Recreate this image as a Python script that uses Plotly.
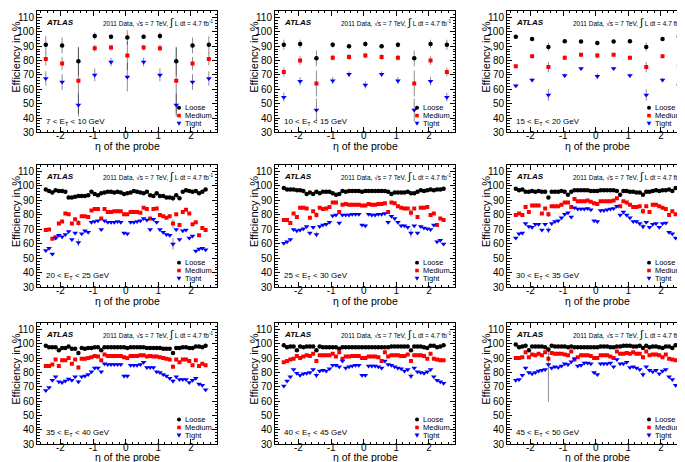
import plotly.graph_objects as go

W, H = 685, 462

# ---------------- data ----------------
ETA_COARSE = [-2.45, -1.95, -1.45, -0.95, -0.45, 0.05, 0.55, 1.05, 1.55, 2.05, 2.55]
ETA_FINE = [-2.45, -2.35, -2.25, -2.15, -2.05, -1.95, -1.85, -1.75, -1.65, -1.55,
            -1.45, -1.35, -1.25, -1.15, -1.05, -0.95, -0.85, -0.75, -0.65, -0.55,
            -0.45, -0.35, -0.25, -0.15, -0.05, 0.05, 0.15, 0.25, 0.35, 0.45,
            0.55, 0.65, 0.75, 0.85, 0.95, 1.05, 1.15, 1.25, 1.35, 1.45,
            1.55, 1.65, 1.75, 1.85, 1.95, 2.05, 2.15, 2.25, 2.35, 2.45]

ET_LABELS = ["7 < E<sub>T</sub> < 10 GeV", "10 < E<sub>T</sub> < 15 GeV", "15 < E<sub>T</sub> < 20 GeV",
             "20 < E<sub>T</sub> < 25 GeV", "25 < E<sub>T</sub> < 30 GeV", "30 < E<sub>T</sub> < 35 GeV",
             "35 < E<sub>T</sub> < 40 GeV", "40 < E<sub>T</sub> < 45 GeV", "45 < E<sub>T</sub> < 50 GeV"]
SERIES_NAMES = ["Loose", "Medium", "Tight"]
X_TICKS = [-2, -1, 0, 1, 2]
X_TICK_TEXT = ["-2", "-1", "0", "1", "2"]
Y_TICKS = [30, 40, 50, 60, 70, 80, 90, 100, 110]

# panel 1: 7-10 GeV
LOOSE_1 = [91.0, 90.5, 79.5, 97.0, 96.5, 96.0, 96.5, 97.0, 79.5, 90.5, 91.0]
MEDIUM_1 = [81.0, 78.0, 66.0, 88.5, 89.0, 83.5, 89.0, 88.5, 66.0, 78.0, 81.0]
TIGHT_1 = [67.5, 65.0, 49.0, 70.0, 79.0, 68.5, 79.0, 70.0, 49.0, 65.0, 67.5]
ERR_LOOSE_1 = [6.0, 5.5, 10.0, 2.5, 1.5, 5.0, 1.5, 2.5, 10.0, 5.5, 6.0]
ERR_MEDIUM_1 = [4.5, 4.5, 23.0, 2.5, 2.0, 10.0, 2.0, 2.5, 23.0, 4.5, 4.5]
ERR_TIGHT_1 = [5.0, 5.5, 8.0, 4.5, 3.0, 10.0, 3.0, 4.5, 8.0, 5.5, 5.0]

# panel 2: 10-15 GeV
LOOSE_2 = [91.0, 91.5, 81.5, 91.0, 90.0, 91.5, 90.0, 91.0, 81.5, 91.5, 91.0]
MEDIUM_2 = [72.0, 80.0, 64.0, 82.0, 82.5, 83.5, 82.5, 82.0, 64.0, 80.0, 72.0]
TIGHT_2 = [54.5, 65.5, 45.5, 66.0, 70.5, 63.0, 70.5, 66.0, 45.5, 65.5, 54.5]
ERR_LOOSE_2 = [3.5, 3.0, 5.5, 2.0, 1.5, 2.0, 1.5, 2.0, 5.5, 3.0, 3.5]
ERR_MEDIUM_2 = [3.0, 3.0, 9.0, 2.0, 2.0, 2.0, 2.0, 2.0, 9.0, 3.0, 3.0]
ERR_TIGHT_2 = [3.0, 3.0, 8.0, 2.5, 2.0, 2.5, 2.0, 2.5, 8.0, 3.0, 3.0]

# panel 3: 15-20 GeV
LOOSE_3 = [96.5, 95.0, 89.5, 93.5, 93.3, 92.2, 93.3, 93.5, 89.5, 95.0, 96.5]
MEDIUM_3 = [76.0, 83.0, 75.5, 82.0, 84.0, 83.5, 84.0, 82.0, 75.5, 83.0, 76.0]
TIGHT_3 = [62.5, 66.5, 56.0, 69.5, 74.5, 69.0, 74.5, 69.5, 56.0, 66.5, 62.5]
ERR_LOOSE_3 = [1.0, 1.0, 3.0, 1.0, 1.0, 1.5, 1.0, 1.0, 3.0, 1.0, 1.0]
ERR_MEDIUM_3 = [1.0, 1.0, 3.5, 1.5, 1.0, 2.0, 1.0, 1.5, 3.5, 1.0, 1.0]
ERR_TIGHT_3 = [1.0, 1.5, 4.0, 1.5, 1.0, 2.0, 1.0, 1.5, 4.0, 1.5, 1.0]

# panel 4: 20-25 GeV
LOOSE_4 = [97.5, 96.5, 95.5, 97.0, 96.5, 96.5, 96.0, 92.0, 92.0, 92.5,
           93.0, 93.0, 93.0, 93.5, 96.0, 94.5, 93.5, 95.0, 95.5, 96.0,
           96.0, 95.5, 96.0, 95.5, 94.5, 95.0, 95.5, 96.5, 96.0, 95.5,
           95.0, 96.0, 93.5, 93.0, 95.0, 93.0, 93.0, 92.0, 92.0, 91.5,
           93.5, 91.5, 96.0, 97.0, 96.5, 96.0, 96.5, 95.0, 96.0, 97.5]
MEDIUM_4 = [69.5, 70.0, 63.5, 64.5, 74.0, 75.5, 81.0, 80.5, 74.0, 77.0,
            74.5, 79.0, 79.0, 78.5, 83.0, 84.0, 84.0, 77.5, 84.0, 82.0,
            82.0, 82.5, 82.5, 82.5, 80.5, 80.5, 82.0, 82.0, 82.0, 81.5,
            85.0, 84.0, 77.5, 84.0, 84.5, 80.0, 79.0, 78.0, 79.0, 74.0,
            80.5, 73.0, 82.0, 83.5, 81.0, 73.5, 75.0, 66.0, 71.0, 69.5]
TIGHT_4 = [55.5, 57.0, 53.0, 64.0, 66.0, 65.0, 66.5, 68.5, 63.0, 67.5,
           61.0, 67.0, 69.0, 68.0, 75.0, 75.5, 76.0, 70.0, 76.0, 75.0,
           75.0, 75.0, 75.5, 75.0, 67.5, 67.0, 75.0, 75.0, 75.5, 76.0,
           77.5, 76.5, 70.0, 77.0, 75.0, 70.0, 68.0, 66.5, 66.0, 60.0,
           70.0, 63.0, 69.0, 69.5, 64.0, 65.5, 55.0, 56.5, 57.0, 56.0]

# panel 5: 25-30 GeV
LOOSE_5 = [98.5, 97.5, 97.5, 97.5, 97.0, 97.0, 96.5, 94.5, 95.5, 94.5,
           96.0, 95.0, 96.0, 96.0, 96.0, 95.0, 94.0, 94.5, 96.5, 96.0,
           96.5, 96.5, 96.5, 96.5, 96.0, 96.5, 96.5, 96.5, 96.5, 96.5,
           96.5, 96.5, 96.0, 94.5, 95.5, 95.5, 95.5, 95.5, 96.0, 95.0,
           95.0, 96.0, 97.0, 96.5, 97.0, 97.5, 97.0, 97.5, 97.5, 98.0]
MEDIUM_5 = [76.5, 76.5, 74.5, 81.0, 78.5, 85.0, 85.0, 84.5, 78.0, 82.5,
            80.0, 85.0, 84.0, 84.5, 85.5, 88.5, 88.5, 82.0, 87.0, 87.5,
            87.0, 87.0, 87.0, 87.0, 86.5, 86.5, 87.5, 87.0, 87.0, 87.5,
            87.5, 88.0, 82.0, 88.5, 88.0, 86.0, 85.0, 84.5, 84.5, 81.5,
            84.5, 78.5, 85.0, 85.0, 85.5, 80.0, 81.0, 73.0, 77.5, 76.5]
TIGHT_5 = [60.5, 61.5, 63.0, 70.0, 69.0, 69.5, 70.5, 72.0, 67.5, 71.5,
           66.5, 72.0, 73.0, 73.5, 75.0, 79.5, 80.0, 74.5, 80.0, 80.0,
           80.0, 80.5, 80.5, 80.5, 73.0, 72.5, 80.5, 80.0, 80.0, 80.5,
           80.5, 81.0, 75.0, 79.0, 77.5, 75.0, 72.5, 72.5, 71.5, 67.5,
           72.5, 67.5, 72.0, 71.0, 70.5, 70.0, 73.0, 61.5, 62.5, 60.0]

# panel 6: 30-35 GeV
LOOSE_6 = [98.0, 97.0, 97.5, 96.0, 96.0, 96.5, 96.0, 96.5, 96.0, 96.0,
           92.0, 96.0, 96.0, 96.0, 96.5, 96.0, 94.0, 96.0, 97.0, 97.0,
           97.0, 97.0, 97.0, 96.5, 96.5, 96.5, 97.0, 97.0, 97.0, 97.0,
           97.0, 96.5, 94.0, 96.5, 96.5, 96.0, 96.0, 95.5, 95.5, 94.0,
           96.0, 96.0, 96.5, 97.0, 96.5, 97.0, 97.0, 97.5, 96.5, 98.5]
MEDIUM_6 = [80.0, 81.0, 80.0, 85.5, 82.0, 86.5, 86.5, 86.5, 81.0, 84.5,
            80.5, 86.0, 86.0, 86.0, 87.0, 88.5, 88.5, 85.5, 91.0, 89.5,
            89.5, 89.5, 90.0, 89.0, 88.0, 87.5, 89.5, 89.5, 89.5, 89.5,
            90.0, 91.5, 86.0, 89.5, 88.5, 87.0, 85.5, 85.5, 86.0, 82.5,
            86.0, 82.0, 87.0, 87.0, 86.0, 85.0, 84.0, 80.0, 82.5, 80.5]
TIGHT_6 = [64.0, 67.0, 67.5, 74.0, 72.0, 71.5, 73.5, 73.5, 69.5, 73.5,
           69.5, 74.0, 75.5, 76.0, 78.0, 80.5, 81.5, 78.5, 85.0, 84.0,
           84.0, 84.0, 84.5, 83.5, 76.0, 75.5, 83.0, 83.0, 83.5, 84.0,
           84.5, 86.0, 80.0, 82.0, 80.0, 78.0, 75.5, 75.5, 74.0, 72.0,
           75.0, 71.5, 73.5, 74.0, 71.5, 74.0, 74.5, 68.0, 67.0, 64.0]

# panel 7: 35-40 GeV
LOOSE_7 = [98.5, 97.5, 97.5, 97.5, 95.5, 97.0, 97.0, 98.0, 96.5, 96.5,
           93.5, 97.0, 96.5, 97.0, 97.0, 97.5, 97.5, 95.5, 97.5, 97.5,
           97.5, 97.5, 97.5, 97.5, 97.5, 97.0, 97.5, 97.5, 97.5, 97.5,
           97.5, 97.0, 97.0, 97.0, 97.0, 97.0, 96.5, 96.5, 96.5, 93.5,
           97.0, 97.0, 97.5, 97.5, 97.0, 97.0, 98.0, 98.0, 97.5, 98.5]
MEDIUM_7 = [84.5, 84.5, 85.5, 89.0, 84.5, 88.5, 88.5, 90.0, 86.0, 89.0,
            83.5, 89.5, 89.5, 90.0, 90.5, 91.5, 91.0, 88.5, 92.5, 91.5,
            91.5, 91.5, 91.5, 91.5, 90.5, 90.0, 91.5, 91.5, 91.5, 92.0,
            92.0, 91.0, 91.5, 91.0, 91.0, 90.5, 90.0, 89.5, 89.0, 84.0,
            89.0, 87.0, 89.0, 89.0, 88.0, 85.0, 88.5, 84.5, 86.0, 85.0]
TIGHT_7 = [67.5, 69.5, 74.5, 77.0, 73.5, 73.0, 74.0, 75.5, 74.5, 77.0,
           73.5, 77.0, 77.5, 78.5, 80.5, 83.0, 83.0, 80.5, 86.0, 85.5,
           85.5, 85.5, 85.5, 85.5, 77.5, 77.5, 85.0, 85.0, 85.0, 85.5,
           87.0, 83.5, 83.5, 83.5, 80.5, 80.0, 78.5, 77.5, 76.0, 74.0,
           77.0, 75.0, 75.0, 75.0, 73.0, 74.5, 76.0, 72.0, 71.0, 68.0]

# panel 8: 40-45 GeV
LOOSE_8 = [99.0, 97.5, 98.0, 98.0, 95.5, 98.0, 97.5, 98.0, 98.0, 98.0,
           95.5, 98.0, 97.5, 97.5, 97.5, 97.5, 97.5, 96.5, 97.5, 97.5,
           97.5, 97.5, 97.5, 97.5, 97.5, 97.5, 97.5, 97.5, 97.5, 97.5,
           97.5, 97.5, 97.5, 98.0, 98.0, 98.0, 98.0, 98.0, 98.0, 95.5,
           98.0, 98.0, 98.0, 97.5, 97.0, 98.5, 98.5, 97.5, 98.0, 99.0]
MEDIUM_8 = [87.0, 88.0, 89.0, 89.5, 91.5, 90.0, 91.0, 92.0, 91.5, 93.0,
            88.0, 92.0, 92.0, 92.0, 92.0, 93.0, 91.0, 94.0, 89.5, 91.0,
            91.0, 91.5, 91.5, 91.5, 90.0, 90.0, 91.0, 91.0, 91.0, 90.5,
            88.0, 94.0, 91.0, 92.0, 92.0, 92.0, 91.5, 91.5, 92.5, 88.0,
            92.0, 92.0, 92.0, 91.5, 89.5, 93.0, 89.5, 89.0, 88.5, 88.5]
TIGHT_8 = [70.5, 74.0, 77.0, 82.0, 79.5, 78.0, 79.0, 79.5, 80.0, 82.0,
           78.0, 81.0, 81.5, 81.0, 82.5, 85.0, 85.0, 84.0, 88.0, 83.0,
           84.0, 84.5, 85.0, 85.0, 78.0, 78.0, 84.5, 84.5, 84.5, 84.0,
           83.0, 88.0, 85.5, 85.0, 84.0, 83.0, 82.5, 81.0, 82.0, 77.5,
           83.0, 80.5, 80.0, 79.5, 80.5, 82.0, 77.0, 74.5, 73.5, 72.5]

# panel 9: 45-50 GeV
LOOSE_9 = [99.5, 97.5, 98.0, 98.5, 95.5, 98.0, 98.0, 98.0, 98.0, 97.5,
           96.0, 98.5, 98.0, 98.0, 98.0, 98.0, 97.5, 98.0, 97.5, 97.5,
           97.5, 97.5, 97.5, 97.5, 97.5, 97.5, 98.0, 98.0, 98.0, 97.5,
           97.5, 98.0, 98.0, 98.5, 98.5, 98.5, 98.0, 98.0, 98.5, 97.0,
           98.5, 97.5, 98.0, 98.0, 97.5, 97.0, 98.0, 98.0, 97.0, 99.0]
MEDIUM_9 = [90.0, 90.0, 90.5, 94.0, 90.5, 92.5, 92.0, 93.0, 92.0, 94.0,
            89.5, 93.5, 93.0, 93.0, 93.0, 92.5, 92.0, 94.5, 89.0, 90.5,
            92.0, 92.0, 92.0, 91.5, 90.0, 90.0, 92.0, 92.0, 92.0, 91.0,
            90.0, 94.5, 93.0, 93.0, 93.5, 93.0, 94.0, 93.0, 93.0, 90.5,
            94.5, 92.0, 92.5, 92.5, 92.0, 90.5, 92.5, 89.5, 89.0, 88.5]
TIGHT_9 = [74.5, 75.0, 78.0, 83.0, 80.0, 79.0, 80.0, 81.0, 81.5, 82.0,
           85.5, 83.0, 84.0, 83.5, 84.5, 86.0, 85.5, 87.5, 89.5, 84.5,
           85.0, 86.5, 86.5, 86.0, 80.0, 78.5, 86.0, 86.0, 86.0, 86.5,
           84.0, 89.0, 86.0, 86.0, 87.0, 83.5, 84.0, 83.0, 82.0, 78.5,
           84.0, 81.5, 80.5, 81.5, 79.0, 81.0, 82.0, 77.0, 75.0, 71.0]

# visible error bars in the fine-binned panels: {bin index: (down, up)}
CRACK_ERR_4 = [{10: (1.0, 1.0), 39: (2.0, 2.0)}, {10: (2.0, 2.0), 39: (3.0, 3.0)}, {10: (2.5, 2.5), 39: (4.0, 4.0)}]
CRACK_ERR_5 = [{10: (1.0, 1.0), 39: (1.5, 1.5)}, {10: (2.0, 2.0), 39: (2.5, 2.5)}, {10: (2.0, 2.0), 39: (3.0, 3.0)}]
CRACK_ERR_6 = [{10: (1.0, 1.0), 39: (1.0, 1.0)}, {10: (2.0, 2.0), 39: (2.0, 2.0)}, {10: (2.0, 2.0), 39: (2.0, 2.0)}]
CRACK_ERR_7 = [{10: (1.0, 1.0), 39: (1.0, 1.0)}, {10: (1.5, 1.5), 39: (1.5, 1.5)}, {10: (1.5, 1.5), 39: (1.5, 1.5)}]
CRACK_ERR_8 = [{10: (1.0, 1.0), 39: (1.0, 1.0)}, {10: (1.5, 1.5), 39: (1.5, 1.5)}, {10: (2.0, 2.0), 39: (2.0, 2.0)}]
CRACK_ERR_9 = [{10: (1.0, 1.0), 39: (1.0, 1.0)}, {10: (1.5, 1.5), 39: (1.5, 1.5)}, {10: (26.0, 12.0), 39: (2.0, 2.0)}]

PANELS = [
    (ETA_COARSE, [LOOSE_1, MEDIUM_1, TIGHT_1], [ERR_LOOSE_1, ERR_MEDIUM_1, ERR_TIGHT_1]),
    (ETA_COARSE, [LOOSE_2, MEDIUM_2, TIGHT_2], [ERR_LOOSE_2, ERR_MEDIUM_2, ERR_TIGHT_2]),
    (ETA_COARSE, [LOOSE_3, MEDIUM_3, TIGHT_3], [ERR_LOOSE_3, ERR_MEDIUM_3, ERR_TIGHT_3]),
    (ETA_FINE, [LOOSE_4, MEDIUM_4, TIGHT_4], CRACK_ERR_4),
    (ETA_FINE, [LOOSE_5, MEDIUM_5, TIGHT_5], CRACK_ERR_5),
    (ETA_FINE, [LOOSE_6, MEDIUM_6, TIGHT_6], CRACK_ERR_6),
    (ETA_FINE, [LOOSE_7, MEDIUM_7, TIGHT_7], CRACK_ERR_7),
    (ETA_FINE, [LOOSE_8, MEDIUM_8, TIGHT_8], CRACK_ERR_8),
    (ETA_FINE, [LOOSE_9, MEDIUM_9, TIGHT_9], CRACK_ERR_9),
]

# ---------------- style / layout ----------------
FONT = "Liberation Sans, Arial, Helvetica, sans-serif"
COLORS = ["#000000", "#ff0000", "#0000ff"]
SYMBOLS = ["circle", "square", "triangle-down"]
SIZES = [4.5, 4, 5]
ERR_COLOR = "rgba(0,0,0,0.45)"
X_RANGE = [-2.72, 2.8]
Y_RANGE = [30, 114.5]
COL_PX = [(29, 209), (267, 447), (499, 679)]
ROW_PX = [(3, 126), (159, 283), (319, 442)]


def px(x):
    return x / W


def py(y):
    return 1 - y / H


fig = go.Figure()
layout = dict(width=W, height=H, autosize=False, margin=dict(l=0, r=0, t=0, b=0),
              paper_bgcolor="white", plot_bgcolor="white", showlegend=False,
              font=dict(family=FONT, color="black"))
annotations = []
shapes = []

for k, (eta, series, errs) in enumerate(PANELS):
    r, c = divmod(k, 3)
    x0, x1 = COL_PX[c]
    y0, y1 = ROW_PX[r]
    n = k + 1
    xname = "xaxis" if n == 1 else f"xaxis{n}"
    yname = "yaxis" if n == 1 else f"yaxis{n}"
    xref = "x" if n == 1 else f"x{n}"
    yref = "y" if n == 1 else f"y{n}"
    common = dict(showline=True, linecolor="black", linewidth=1, mirror="ticks",
                  ticks="inside", tickcolor="black", tickwidth=1,
                  showgrid=False, zeroline=False, fixedrange=True,
                  tickfont=dict(size=10, family=FONT, color="black"))
    layout[xname] = dict(domain=[px(x0), px(x1)], range=X_RANGE, anchor=yref,
                         tickmode="array", tickvals=X_TICKS, ticktext=X_TICK_TEXT, ticklen=5,
                         ticklabelstandoff=-6,
                         minor=dict(ticks="inside", dtick=0.2, ticklen=2.5, tickcolor="black"),
                         **common)
    layout[yname] = dict(domain=[py(y1), py(y0)], range=Y_RANGE, anchor=xref,
                         tickmode="array", tickvals=Y_TICKS, ticklen=5,
                         minor=dict(ticks="inside", dtick=2, ticklen=2.5, tickcolor="black"),
                         **common)

    for s in range(3):
        vals = series[s]
        e = errs[s]
        if isinstance(e, dict):
            up = [e.get(i, (0, 0))[1] for i in range(len(vals))]
            dn = [e.get(i, (0, 0))[0] for i in range(len(vals))]
        else:
            up = e
            dn = e
        fig.add_trace(go.Scatter(
            x=eta, y=vals, mode="markers", name=SERIES_NAMES[s],
            marker=dict(symbol=SYMBOLS[s], size=SIZES[s], color=COLORS[s], line=dict(width=0)),
            error_y=dict(type="data", symmetric=False, array=up, arrayminus=dn,
                         color=ERR_COLOR, thickness=1, width=0),
            xaxis=xref, yaxis=yref, showlegend=False, hoverinfo="skip"))

    # axis titles
    annotations.append(dict(x=px((x0 + x1) / 2), y=py(min(y1 + 21, H)), xref="paper", yref="paper",
                            text="η of the probe", showarrow=False, xanchor="center", yanchor="bottom",
                            borderpad=0, font=dict(size=10.5, family=FONT)))
    annotations.append(dict(x=px(x0 - 29), y=py((y0 + y1) / 2 - 15), xref="paper", yref="paper",
                            text="Efficiency in %", showarrow=False, textangle=-90,
                            xanchor="left", yanchor="middle", font=dict(size=11, family=FONT)))
    # ATLAS label
    annotations.append(dict(x=px(x0 + 7), y=py(y0 + 12), xref="paper", yref="paper",
                            text="<b><i>ATLAS</i></b>", showarrow=False, xanchor="left", yanchor="middle",
                            font=dict(size=8, family=FONT)))
    annotations.append(dict(x=px(x1 - 2), y=py(y0 + 12), xref="paper", yref="paper",
                            text="2011 Data, √s = 7 TeV, <span style='font-size:11px'>∫</span> L dt = 4.7 fb<sup>-1</sup>",
                            showarrow=False, xanchor="right", yanchor="middle",
                            font=dict(size=6.5, family=FONT)))
    # ET bin label
    annotations.append(dict(x=px(x0 + 7), y=py(y1 - 11), xref="paper", yref="paper",
                            text=ET_LABELS[k], showarrow=False, xanchor="left", yanchor="middle",
                            font=dict(size=8, family=FONT)))
    # legend
    for s, dy in enumerate([25, 17, 9]):
        cx, cy = x1 - 38, y1 - dy
        if s == 0:
            shapes.append(dict(type="circle", xref="paper", yref="paper",
                               x0=px(cx - 2), x1=px(cx + 2), y0=py(cy + 2), y1=py(cy - 2),
                               fillcolor=COLORS[s], line=dict(width=0)))
        elif s == 1:
            shapes.append(dict(type="rect", xref="paper", yref="paper",
                               x0=px(cx - 1.8), x1=px(cx + 1.8), y0=py(cy + 1.8), y1=py(cy - 1.8),
                               fillcolor=COLORS[s], line=dict(width=0)))
        else:
            path = (f"M {px(cx - 2.4)} {py(cy - 1.8)} L {px(cx + 2.4)} {py(cy - 1.8)} "
                    f"L {px(cx)} {py(cy + 2.4)} Z")
            shapes.append(dict(type="path", xref="paper", yref="paper", path=path,
                               fillcolor=COLORS[s], line=dict(width=0)))
        annotations.append(dict(x=px(cx + 4), y=py(cy), xref="paper", yref="paper",
                                text=SERIES_NAMES[s], showarrow=False, xanchor="left", yanchor="middle",
                                font=dict(size=7.5, family=FONT)))

layout["annotations"] = annotations
layout["shapes"] = shapes
fig.update_layout(**layout)
fig.write_html("out.html")
